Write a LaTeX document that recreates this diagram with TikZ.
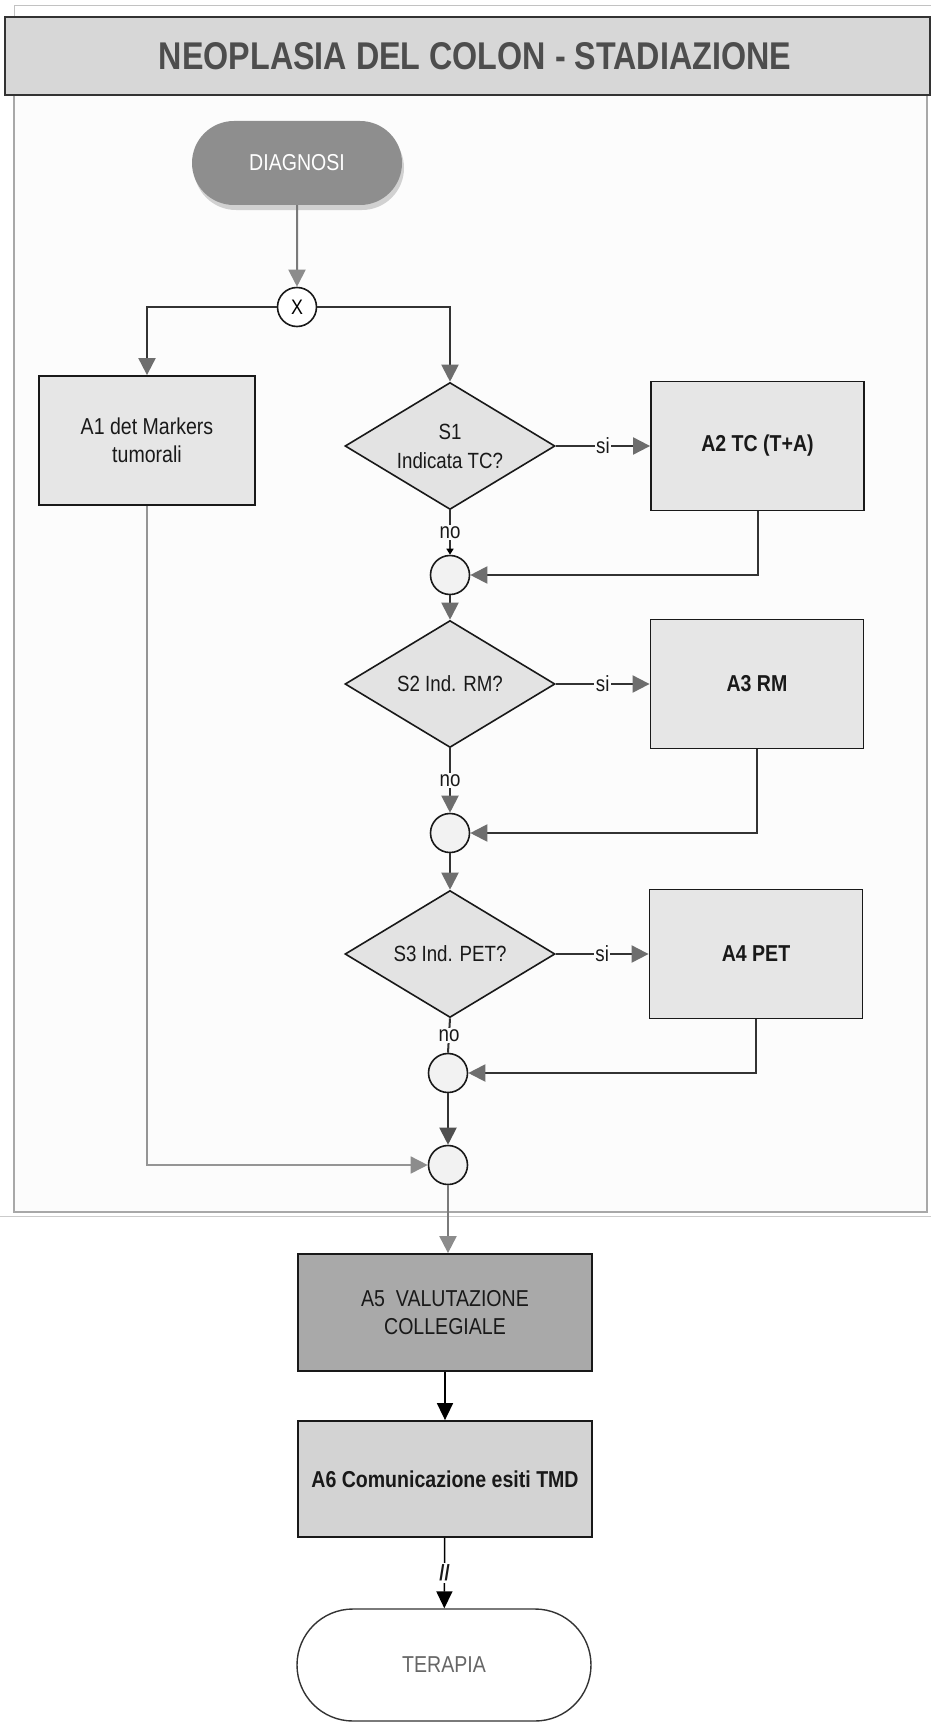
\documentclass[tikz,border=0pt]{standalone}
\usepackage{fontspec}
\setmainfont{Liberation Sans}[FakeStretch=0.85]
\usetikzlibrary{arrows.meta,shapes.geometric,shapes.misc,shadows}

\definecolor{titlefill}{HTML}{D7D7D7}
\definecolor{titletext}{HTML}{4D4D4D}
\definecolor{panelfill}{HTML}{FCFCFC}
\definecolor{panelline}{HTML}{A8A8A8}
\definecolor{diagfill}{HTML}{8E8E8E}
\definecolor{boxfill}{HTML}{E6E6E6}
\definecolor{decfill}{HTML}{E3E3E3}
\definecolor{joinfill}{HTML}{F2F2F2}
\definecolor{afivefill}{HTML}{A9A9A9}
\definecolor{asixfill}{HTML}{D3D3D3}
\definecolor{linedark}{HTML}{333333}
\definecolor{linegray}{HTML}{7A7A7A}
\definecolor{tipgray}{HTML}{6E6E6E}
\definecolor{tiplight}{HTML}{8C8C8C}
\definecolor{tipdark}{HTML}{505050}

\tikzset{
  txt/.style={font=\fontsize{23}{28}\selectfont, text=black!90, align=center},
  boxnode/.style={txt, rectangle, draw=black!90, line width=1.8pt, fill=boxfill,
    minimum width=213pt, minimum height=129pt, inner sep=0pt},
  boldbox/.style={boxnode, font=\fontsize{23}{28}\selectfont\bfseries},
  decision/.style={txt, diamond, aspect=1.65, inner sep=0pt, draw=black!90,
    line width=1.6pt, fill=decfill, minimum width=210pt, minimum height=127pt,
    font=\fontsize{22}{29}\selectfont},
  joinnode/.style={circle, draw=black!90, line width=1.6pt, fill=joinfill,
    minimum size=39pt, inner sep=0pt},
  pill/.style={txt, rounded rectangle, inner sep=0pt},
  conn/.style={draw=linedark, line width=2pt},
  graytip/.style={-{Triangle[width=17pt,length=17pt,color=tipgray]}},
  lighttip/.style={-{Triangle[width=17pt,length=17pt,color=tiplight]}},
  darktip/.style={-{Triangle[width=17pt,length=17pt,color=tipdark]}},
  blacktip/.style={-{Triangle[width=16pt,length=17pt,color=black]}},
  smalltip/.style={-{Triangle[width=7pt,length=6pt,color=black]}},
  lbl/.style={font=\fontsize{22}{24}\selectfont, text=black!90, fill=panelfill,
    inner sep=1.5pt},
}

\begin{document}
\begin{tikzpicture}[x=1pt,y=-1pt]
\useasboundingbox (0,0) rectangle (931,1723);
\fill[white] (0,0) rectangle (931,1723);

% page frame and process panel
\draw[panelline!70, line width=1pt] (14,17) -- (14,6) -- (931,6);
\fill[panelfill] (14,95) rectangle (927,1212);
\draw[panelline, line width=1.2pt] (14,95) -- (14,1212) -- (927,1212) -- (927,95);
\draw[panelline!60, line width=1pt] (0,1216) -- (931,1216);

% title bar
\draw[draw=linedark, line width=2pt, fill=titlefill] (5,17) rectangle (930,95);
\node[text=titletext] (title) at (475,56)
  {\resizebox{632pt}{27pt}{\bfseries NEOPLASIA DEL COLON - STADIAZIONE}};

% nodes
\node[pill, fill=diagfill, text=white, minimum width=210pt, minimum height=84pt,
  drop shadow={shadow xshift=2pt, shadow yshift=-5pt, fill=black!18, opacity=1}]
  (diag) at (297,163) {DIAGNOSI};
\node[joinnode, fill=white, font=\fontsize{21}{21}\selectfont] (xg) at (297,307) {X};

\node[boxnode, minimum width=216pt] (a1) at (147,440.5) {A1 det Markers\\tumorali};

\node[decision] (s1) at (450,446) {S1\\Indicata TC?};
\node[boldbox] (a2) at (757.5,446) {A2 TC (T+A)};
\node[joinnode] (c1) at (450,575) {};

\node[decision] (s2) at (450,684) {S2 Ind. RM?};
\node[boldbox] (a3) at (757,684) {A3 RM};
\node[joinnode] (c2) at (450,833) {};

\node[decision] (s3) at (450,954) {S3 Ind. PET?};
\node[boldbox] (a4) at (756,954) {A4 PET};
\node[joinnode] (c3) at (448,1073) {};

\node[joinnode] (fin) at (448,1165) {};

\node[boxnode, fill=afivefill, minimum width=294pt, minimum height=117pt]
  (a5) at (445,1312.5) {A5\ \ VALUTAZIONE\\COLLEGIALE};
\node[boldbox, fill=asixfill, minimum width=294pt, minimum height=116pt]
  (a6) at (445,1479) {A6 Comunicazione esiti TMD};
\node[pill, draw=black!80, line width=1.4pt, fill=white, text=black!60,
  minimum width=294pt, minimum height=112pt] (ter) at (444,1665) {TERAPIA};

% connectors
\draw[conn, draw=linegray, lighttip] (diag) -- (xg);
\draw[conn, graytip] (xg.west) -| (a1.north);
\draw[conn, graytip] (xg.east) -| (s1.north);

\draw[conn, graytip] (s1.east) -- node[lbl] {si} (a2.west);
\draw[conn, graytip] (a2.south) |- (c1.east);
\draw[conn, smalltip] (s1.south) -- node[lbl] {no} (c1.north);
\draw[conn, graytip] (c1) -- (s2);

\draw[conn, graytip] (s2.east) -- node[lbl] {si} (a3.west);
\draw[conn, graytip] (a3.south) |- (c2.east);
\draw[conn, graytip] (s2.south) -- node[lbl] {no} (c2.north);
\draw[conn, graytip] (c2) -- (s3);

\draw[conn, graytip] (s3.east) -- node[lbl] {si} (a4.west);
\draw[conn, graytip] (a4.south) |- (c3.east);
\draw[conn] (s3.south) -- node[lbl] {no} (c3.north);
\draw[conn, darktip] (c3) -- (fin);

\draw[conn, draw=linegray!80, line width=1.6pt, lighttip] (a1.south) |- (fin.west);
\draw[conn, draw=linegray, lighttip] (fin.south) -- (fin.south |- a5.north);
\draw[conn, draw=black, line width=1.6pt, blacktip] (a5) -- (a6);
\draw[conn, draw=black, line width=1.6pt, blacktip] (a6) --
  node[lbl, fill=white, font=\fontsize{22}{24}\selectfont\bfseries] {//} (ter);
\end{tikzpicture}
\end{document}
